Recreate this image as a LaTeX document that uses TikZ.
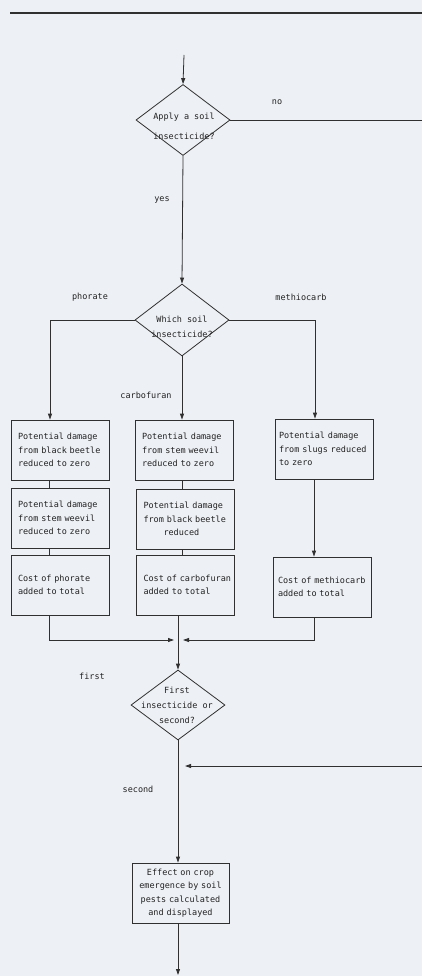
\documentclass[tikz,border=0pt]{standalone}
\usepackage{fontspec}
\setmonofont{DejaVu Sans Mono}
\usetikzlibrary{shapes.geometric,arrows.meta}
\definecolor{bgc}{HTML}{EDF0F4}
\definecolor{ink}{HTML}{303030}
\definecolor{tink}{HTML}{222222}
\begin{document}
\begin{tikzpicture}[x=1pt,y=-1pt,
  line/.style={draw=ink,line width=0.8pt},
  arr/.style={line,-{Triangle[length=6pt,width=4pt]}},
  txt/.style={font=\ttfamily\fontsize{8.5}{13.5}\selectfont,text=tink},
  box/.style={line,txt,minimum width=98pt,minimum height=60pt,text width=84pt,inner xsep=7pt,inner ysep=0pt,align=left},
  dec/.style={line,shape=diamond,minimum width=94pt,minimum height=71pt,inner sep=0pt},
  dtext/.style={txt,align=center},
  lab/.style={txt,inner sep=0pt}]
\useasboundingbox (0,0) rectangle (422,976);
\fill[bgc] (0,0) rectangle (422,976);
% top rule
\coordinate (r1) at (10,13);
\coordinate (r2) at (422,13);
\draw[draw=ink,line width=1.1pt] (r1) -- (r2);
% decisions
\node[dec] (d1) at (183,120) {};
\node[dtext,font=\ttfamily\fontsize{8.5}{20}\selectfont] (d1t) at (184,126) {Apply a soil\\insecticide?};
\node[dec,minimum height=72pt] (d2) at (182,320) {};
\node[dtext,font=\ttfamily\fontsize{8.5}{15}\selectfont] (d2t) at (182,327) {Which soil\\insecticide?};
\node[dec,minimum height=70pt] (d3) at (178,705) {};
\node[dtext,font=\ttfamily\fontsize{8.5}{15}\selectfont] (d3t) at (177,705) {First\\insecticide or\\second?};
% boxes
\node[box] (L1) at (60,450) {Potential damage\\from black beetle\\reduced to zero};
\node[box] (L2) at (60,518) {Potential damage\\from stem weevil\\reduced to zero};
\node[box] (L3) at (60,585) {Cost of phorate\\added to total};
\node[box] (M1) at (184,450) {Potential damage\\from stem weevil\\reduced to zero};
\node[box] (M2) at (185.5,519) {Potential damage\\from black beetle\\\hspace*{20pt}reduced};
\node[box] (M3) at (185.5,585) {\mbox{Cost of carbofuran}\\added to total};
\node[box,inner xsep=4pt,text width=90pt] (R1) at (324,449) {Potential damage\\from slugs reduced\\to zero};
\node[box,inner xsep=5pt,text width=88pt] (R3) at (322,587) {\mbox{Cost of methiocarb}\\added to total};
\node[box,minimum width=97pt,text width=87pt,inner xsep=5pt,align=center] (E) at (180.5,893) {Effect on crop\\\mbox{emergence by soil}\\pests calculated\\and displayed};
% labels
\node[lab] (lno) at (277,102) {no};
\node[lab] (lyes) at (162,200) {yes};
\node[lab] (lph) at (90,297) {phorate};
\node[lab] (lme) at (301,297) {methiocarb};
\node[lab] (lca) at (146,395) {carbofuran};
\node[lab] (lfi) at (92,676) {first};
\node[lab] (lse) at (138,789) {second};
% connectors
\coordinate (start) at (184,55);
\draw[arr] (start) -- (d1.north);
\coordinate (noend) at (422,120);
\draw[line] (d1.east) -- (noend);
\draw[arr] (d1.south) -- (d2.north);
\draw[arr] (d2.west) -| ([xshift=-10pt]L1.north);
\draw[arr] (d2.east) -| ([xshift=-9pt]R1.north);
\draw[arr] (d2.south) -- (d2.south |- M1.north);
\draw[line] ([xshift=-11pt]L1.south) -- ([xshift=-11pt]L2.north);
\draw[line] ([xshift=-11pt]L2.south) -- ([xshift=-11pt]L3.north);
\draw[line] (M1.south -| d2.south) -- (M2.north -| d2.south);
\draw[line] (M2.south -| d2.south) -- (M3.north -| d2.south);
\draw[arr] ([xshift=-10pt]R1.south) -- ([xshift=-10pt]R1.south |- R3.north);
\coordinate (mL) at (174,640);
\coordinate (mR) at (183,640);
\draw[arr] ([xshift=-11pt]L3.south) |- (mL);
\draw[arr] ([xshift=-8pt]R3.south) |- (mR);
\draw[arr] (M3.south -| d3.north) -- (d3.north);
\coordinate (retstart) at (422,766);
\coordinate (retend) at (185,766);
\draw[arr] (retstart) -- (retend);
\draw[arr] (d3.south) -- (d3.south |- E.north);
\coordinate (endp) at (178,975);
\draw[arr] (E.south -| d3.south) -- (endp);
\end{tikzpicture}
\end{document}
